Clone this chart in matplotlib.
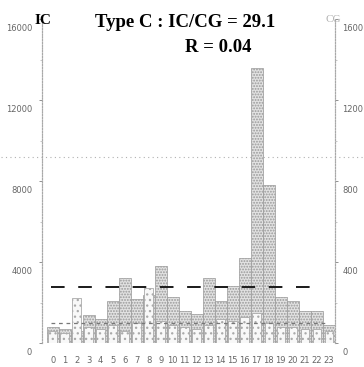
import numpy as np
import matplotlib
matplotlib.use("Agg")
import matplotlib.pyplot as plt
from matplotlib.transforms import ScaledTranslation

# hourly values
hours = list(range(24))
ic_counts = [800, 700, 600, 1400, 1200, 2100, 3200, 2200, 2400, 3800, 2300, 1600,
             1450, 3200, 2100, 2800, 4200, 13600, 7800, 2300, 2100, 1600, 1600, 900]
cg_counts = [60, 50, 225, 80, 70, 90, 60, 100, 270, 110, 90, 80,
             70, 90, 120, 110, 130, 150, 100, 80, 80, 70, 70, 60]
ic_ticks = [0, 4000, 8000, 12000, 16000]
cg_ticks = [0, 400, 800, 1200, 1600]

plt.rcParams['hatch.linewidth'] = 0.9
tick_font = ['Liberation Sans Narrow', 'DejaVu Sans']

fig = plt.figure(figsize=(3.64, 3.67), dpi=100)
ax = fig.add_axes([0.115, 0.065, 0.805, 0.883])
ax2 = ax.twinx()

# IC bars, stippled
ax.bar(hours, ic_counts, width=1.0, facecolor='#e2e2e2', edgecolor='#999999',
       hatch='......', linewidth=0.5, zorder=2)
# CG bars, narrower and lighter, on the right scale
ax2.bar(hours, cg_counts, width=0.72, facecolor='#f8f8f8', edgecolor='#aaaaaa',
        hatch='...', linewidth=0.6, zorder=3)

# mean lines
ax.axhline(np.mean(ic_counts), xmin=0.03, xmax=0.93, color='#1a1a1a', lw=1.4,
           dashes=(7, 7), zorder=5)
ax2.axhline(np.mean(cg_counts), xmin=0.03, xmax=0.97, color='#777777', lw=0.9,
            dashes=(3, 3), zorder=6)

# faint fold line from the scan
ax.axhline(9200, xmin=-0.14, xmax=1.13, color='#b0b0b0', lw=0.8, ls=(0, (1, 3)),
           clip_on=False, zorder=1)

ax.set_xlim(-0.9, 23.5)
ax.set_ylim(0, 16000)
ax2.set_ylim(0, 1600)
ax.set_xticks(hours)
ax.set_yticks(ic_ticks)
ax2.set_yticks(cg_ticks)
ax.set_yticks(np.arange(0, 16001, 2000), minor=True)
ax2.set_yticks(np.arange(0, 1601, 200), minor=True)

for a in (ax, ax2):
    for side in ('top', 'bottom'):
        a.spines[side].set_visible(False)
    for side in ('left', 'right'):
        a.spines[side].set_color('#a8a8a8')
        a.spines[side].set_linestyle((0, (1, 1.5)))
        a.spines[side].set_linewidth(0.8)
    a.tick_params(colors='#666666', labelsize=6, width=0.5, length=2)
    a.tick_params(which='minor', colors='#b0b0b0', length=1.5, width=0.5)
    for lab in a.get_yticklabels() + a.get_xticklabels():
        lab.set_family(tick_font)

ax.tick_params(axis='x', length=0, pad=9)
ax.tick_params(axis='y', pad=5)
ax.axhline(0, color='#b0b0b0', lw=0.8, ls=(0, (1, 1.5)), zorder=4)

# labels sit a little below their ticks on the scan
shift = ScaledTranslation(0, -6 / 72, fig.dpi_scale_trans)
for lab in ax.get_yticklabels() + ax2.get_yticklabels():
    lab.set_transform(lab.get_transform() + shift)

fig.text(0.26, 0.962, "Type C : IC/CG = 29.1", ha='left', va='top',
         family='Liberation Serif', weight='bold', fontsize=13.5)
fig.text(0.508, 0.895, "R = 0.04", ha='left', va='top',
         family='Liberation Serif', weight='bold', fontsize=13.5)
fig.text(0.096, 0.962, "IC", ha='left', va='top', family='Liberation Serif',
         weight='bold', fontsize=11)
fig.text(0.893, 0.96, "CG", ha='left', va='top', family='Liberation Serif',
         color='#b0b0b0', fontsize=8)

fig.savefig("out.png", dpi=100)
